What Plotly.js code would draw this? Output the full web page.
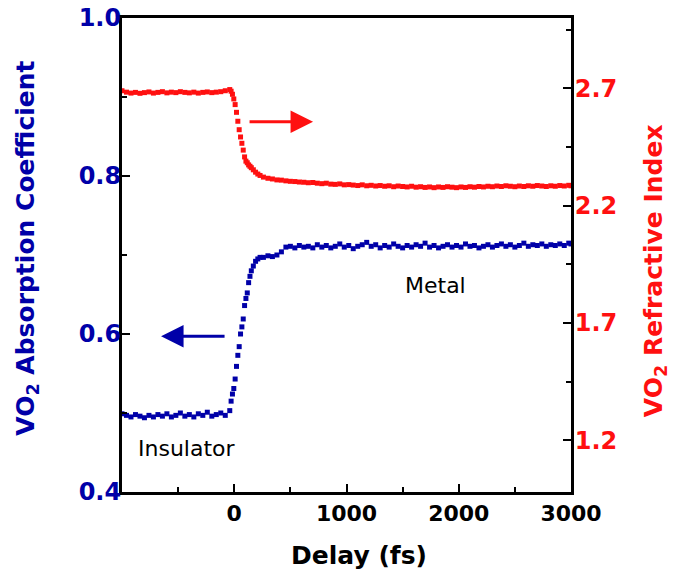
<!DOCTYPE html>
<html>
<head>
<meta charset="utf-8">
<script src="https://cdn.plot.ly/plotly-3.0.1.min.js"></script>
<style>html,body{margin:0;padding:0;background:#fff;}</style>
</head>
<body>
<div id="chart" style="width:673px;height:571px;"></div>
<script>
// Delay (fs)
const delay = [
  -1000,-960,-920,-880,-840,-800,-760,-720,-680,-640,-600,-560,-520,-480,-440,-400,-360,-320,-280,-240,-200,-160,-120,-80,-40,
  -28,-16,-4,8,20,32,44,56,68,80,92,104,116,128,140,152,170,190,210,230,
  260,300,340,380,420,460,500,540,580,620,660,700,740,780,820,860,900,940,980,
  1020,1060,1100,1140,1180,1220,1260,1300,1340,1380,1420,1460,1500,1540,1580,1620,1660,1700,1740,1780,1820,1860,1900,1940,1980,
  2020,2060,2100,2140,2180,2220,2260,2300,2340,2380,2420,2460,2500,2540,2580,2620,2660,2700,2740,2780,2820,2860,2900,2940,2980,
  3000
];
// VO2 absorption coefficient (left axis)
const absorption = [
  0.499,0.497,0.495,0.498,0.496,0.494,0.497,0.495,0.498,0.496,0.499,0.495,0.497,0.500,0.496,0.498,0.495,0.499,0.497,0.501,0.496,0.498,0.500,0.497,0.503,
  0.515,0.524,0.531,0.543,0.559,0.573,0.584,0.600,0.609,0.619,0.636,0.645,0.652,0.665,0.673,0.680,0.686,0.692,0.695,0.697,
  0.697,0.699,0.698,0.700,0.704,0.710,0.711,0.709,0.712,0.710,0.711,0.709,0.713,0.710,0.712,0.709,0.711,0.714,0.710,
  0.712,0.708,0.711,0.713,0.716,0.711,0.713,0.709,0.712,0.710,0.714,0.711,0.709,0.712,0.710,0.713,0.711,0.715,0.710,0.712,0.709,0.711,0.713,0.710,0.712,
  0.710,0.714,0.711,0.712,0.709,0.711,0.713,0.710,0.712,0.714,0.711,0.713,0.710,0.712,0.715,0.711,0.713,0.712,0.714,0.711,0.713,0.712,0.714,0.712,0.715,
  0.714
];
// VO2 refractive index (right axis)
const refractive = [
  2.690,2.684,2.680,2.683,2.679,2.682,2.685,2.680,2.683,2.686,2.681,2.684,2.682,2.686,2.683,2.681,2.684,2.680,2.683,2.685,2.682,2.684,2.686,2.690,2.695,
  2.688,2.675,2.655,2.631,2.598,2.560,2.524,2.493,2.466,2.437,2.408,2.390,2.383,2.374,2.368,2.362,2.353,2.343,2.335,2.329,
  2.322,2.317,2.314,2.310,2.309,2.306,2.304,2.303,2.301,2.300,2.298,2.299,2.296,2.294,2.296,2.292,2.291,2.293,2.289,
  2.290,2.288,2.286,2.289,2.285,2.287,2.284,2.286,2.283,2.285,2.281,2.284,2.282,2.280,2.283,2.279,2.281,2.278,2.280,2.277,2.280,2.278,2.281,2.279,2.277,
  2.280,2.278,2.281,2.279,2.282,2.280,2.283,2.281,2.284,2.282,2.285,2.283,2.281,2.284,2.282,2.285,2.283,2.286,2.284,2.282,2.285,2.283,2.286,2.284,2.287,
  2.285
];
const xTicks = [0, 1000, 2000, 3000];
const xMinor = [-500, 500, 1500, 2500];
const yTicks = [0.4, 0.6, 0.8, 1.0];
const yTickText = ['0.4', '0.6', '0.8', '1.0'];
const yMinor = [0.5, 0.7, 0.9];
const y2Ticks = [1.2, 1.7, 2.2, 2.7];
const y2Minor = [1.45, 1.95, 2.45, 2.95];

const BLUE = '#0000a8';
const RED = '#ff1010';
const FONT = 'DejaVu Sans, Liberation Sans, Arial, sans-serif';

const traces = [
  {x: delay, y: absorption, type: 'scatter', mode: 'markers', yaxis: 'y',
   marker: {symbol: 'square', size: 5, color: BLUE, line: {width: 0}}},
  {x: delay, y: refractive, type: 'scatter', mode: 'markers', yaxis: 'y2',
   marker: {symbol: 'square', size: 5, color: RED, line: {width: 0}}}
];

const axisCommon = {
  showgrid: false, zeroline: false, showline: true, linewidth: 3, linecolor: 'black',
  ticks: 'inside', ticklen: 8, tickwidth: 2, tickcolor: 'black'
};

const layout = {
  width: 673, height: 571,
  margin: {l: 122, r: 102, t: 18, b: 79, pad: 0},
  paper_bgcolor: 'white', plot_bgcolor: 'white',
  showlegend: false,
  font: {family: FONT, size: 21},
  xaxis: Object.assign({}, axisCommon, {
    range: [-1000, 3000], tickvals: xTicks, mirror: true,
    tickfont: {family: FONT, size: 22, color: 'black', weight: 'bold'},
    minor: {tickvals: xMinor, ticks: 'inside', ticklen: 5, tickwidth: 2, tickcolor: 'black', showgrid: false}
  }),
  yaxis: Object.assign({}, axisCommon, {
    range: [0.4, 1.0], tickvals: yTicks, ticktext: yTickText, ticklabelstandoff: -7,
    tickfont: {family: FONT, size: 24, color: BLUE, weight: 'bold'},
    minor: {tickvals: yMinor, ticks: 'inside', ticklen: 5, tickwidth: 2, tickcolor: 'black', showgrid: false}
  }),
  yaxis2: Object.assign({}, axisCommon, {
    range: [0.98, 3.0], overlaying: 'y', side: 'right', tickvals: y2Ticks, ticklabelstandoff: -4,
    tickfont: {family: FONT, size: 24, color: RED, weight: 'bold'},
    minor: {tickvals: y2Minor, ticks: 'inside', ticklen: 5, tickwidth: 2, tickcolor: 'black', showgrid: false}
  }),
  annotations: [
    {xref: 'paper', yref: 'paper', x: 0.528, y: -0.135, xanchor: 'center', yanchor: 'middle', text: 'Delay (fs)', showarrow: false,
     font: {family: FONT, size: 25, color: 'black', weight: 'bold'}},
    {xref: 'paper', yref: 'paper', x: -0.212, y: 0.515, xanchor: 'center', yanchor: 'middle', text: 'VO<sub>2</sub> Absorption Coefficient', showarrow: false, textangle: -90,
     font: {family: FONT, size: 25, color: BLUE, weight: 'bold'}},
    {xref: 'paper', yref: 'paper', x: 1.187, y: 0.468, xanchor: 'center', yanchor: 'middle', text: 'VO<sub>2</sub> Refractive Index', showarrow: false, textangle: -90,
     font: {family: FONT, size: 25, color: RED, weight: 'bold'}},
    {xref: 'x', yref: 'y', x: -420, y: 0.455, text: 'Insulator', showarrow: false,
     font: {family: FONT, size: 22, color: 'black'}},
    {xref: 'x', yref: 'y', x: 1790, y: 0.662, text: 'Metal', showarrow: false,
     font: {family: FONT, size: 22, color: 'black'}},
    {xref: 'x', yref: 'y', x: -652, y: 0.597, text: '', showarrow: true,
     ax: 65, ay: 0, arrowhead: 2, arrowsize: 1.5, arrowwidth: 3, arrowcolor: BLUE, standoff: 0},
    {xref: 'x', yref: 'y2', x: 702, y: 2.558, text: '', showarrow: true,
     ax: -65, ay: 0, arrowhead: 2, arrowsize: 1.5, arrowwidth: 3, arrowcolor: RED, standoff: 0}
  ]
};

Plotly.newPlot('chart', traces, layout, {displayModeBar: false, staticPlot: true});
</script>
</body>
</html>
